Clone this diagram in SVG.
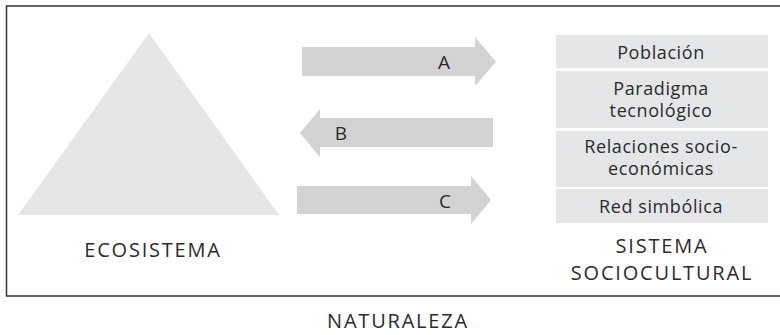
<svg xmlns="http://www.w3.org/2000/svg" width="780" height="335" viewBox="0 0 780 335">
<style>
text{font-family:"Open Sans",Lato,"Liberation Sans",sans-serif;fill:#2b2b2b;text-anchor:middle}
.big{font-size:20px;letter-spacing:1.8px}
.box{font-size:18px;letter-spacing:0.6px}
.lbl{font-size:19px}
.arrow{fill:#d3d3d4}
.cell{fill:#e5e6e8}
</style>
<rect x="0" y="0" width="780" height="335" fill="#fff"/>
<g id="frame">
<path d="M790 6 H6.5 V296 H790" fill="none" stroke="#333" stroke-width="1.5"/>
</g>
<g id="ecosistema">
<polygon points="149,33 279,215 18,215" class="cell"/>
<text x="153" y="257" class="big">ECOSISTEMA</text>
</g>
<g id="sistema">
<rect x="556" y="35" width="212" height="33" class="cell"/>
<text x="661" y="59" class="box">Población</text>
<rect x="556" y="71" width="212" height="57" class="cell"/>
<text x="661" y="95" class="box">Paradigma</text>
<text x="661" y="117" class="box">tecnológico</text>
<rect x="556" y="131" width="212" height="56" class="cell"/>
<text x="661" y="153" class="box">Relaciones socio-</text>
<text x="661" y="175" class="box">económicas</text>
<rect x="556" y="189" width="212" height="34" class="cell"/>
<text x="661" y="213" class="box">Red simbólica</text>
<text x="662" y="253" class="big">SISTEMA</text>
<text x="662" y="280" class="big">SOCIOCULTURAL</text>
</g>
<g id="connectors">
<polygon class="arrow" points="302,47 475,47 475,37 496,62 475,86 475,76 302,76"/>
<text x="444" y="69" class="lbl">A</text>
<polygon class="arrow" points="493,118 320,118 320,109 300,133 320,157 320,147 493,147"/>
<text x="341" y="140" class="lbl">B</text>
<polygon class="arrow" points="297,186 471,186 471,176 491,200 471,224 471,214 297,214"/>
<text x="445" y="208" class="lbl">C</text>
</g>
<g id="naturaleza">
<text x="398" y="328" class="big">NATURALEZA</text>
</g>
</svg>
